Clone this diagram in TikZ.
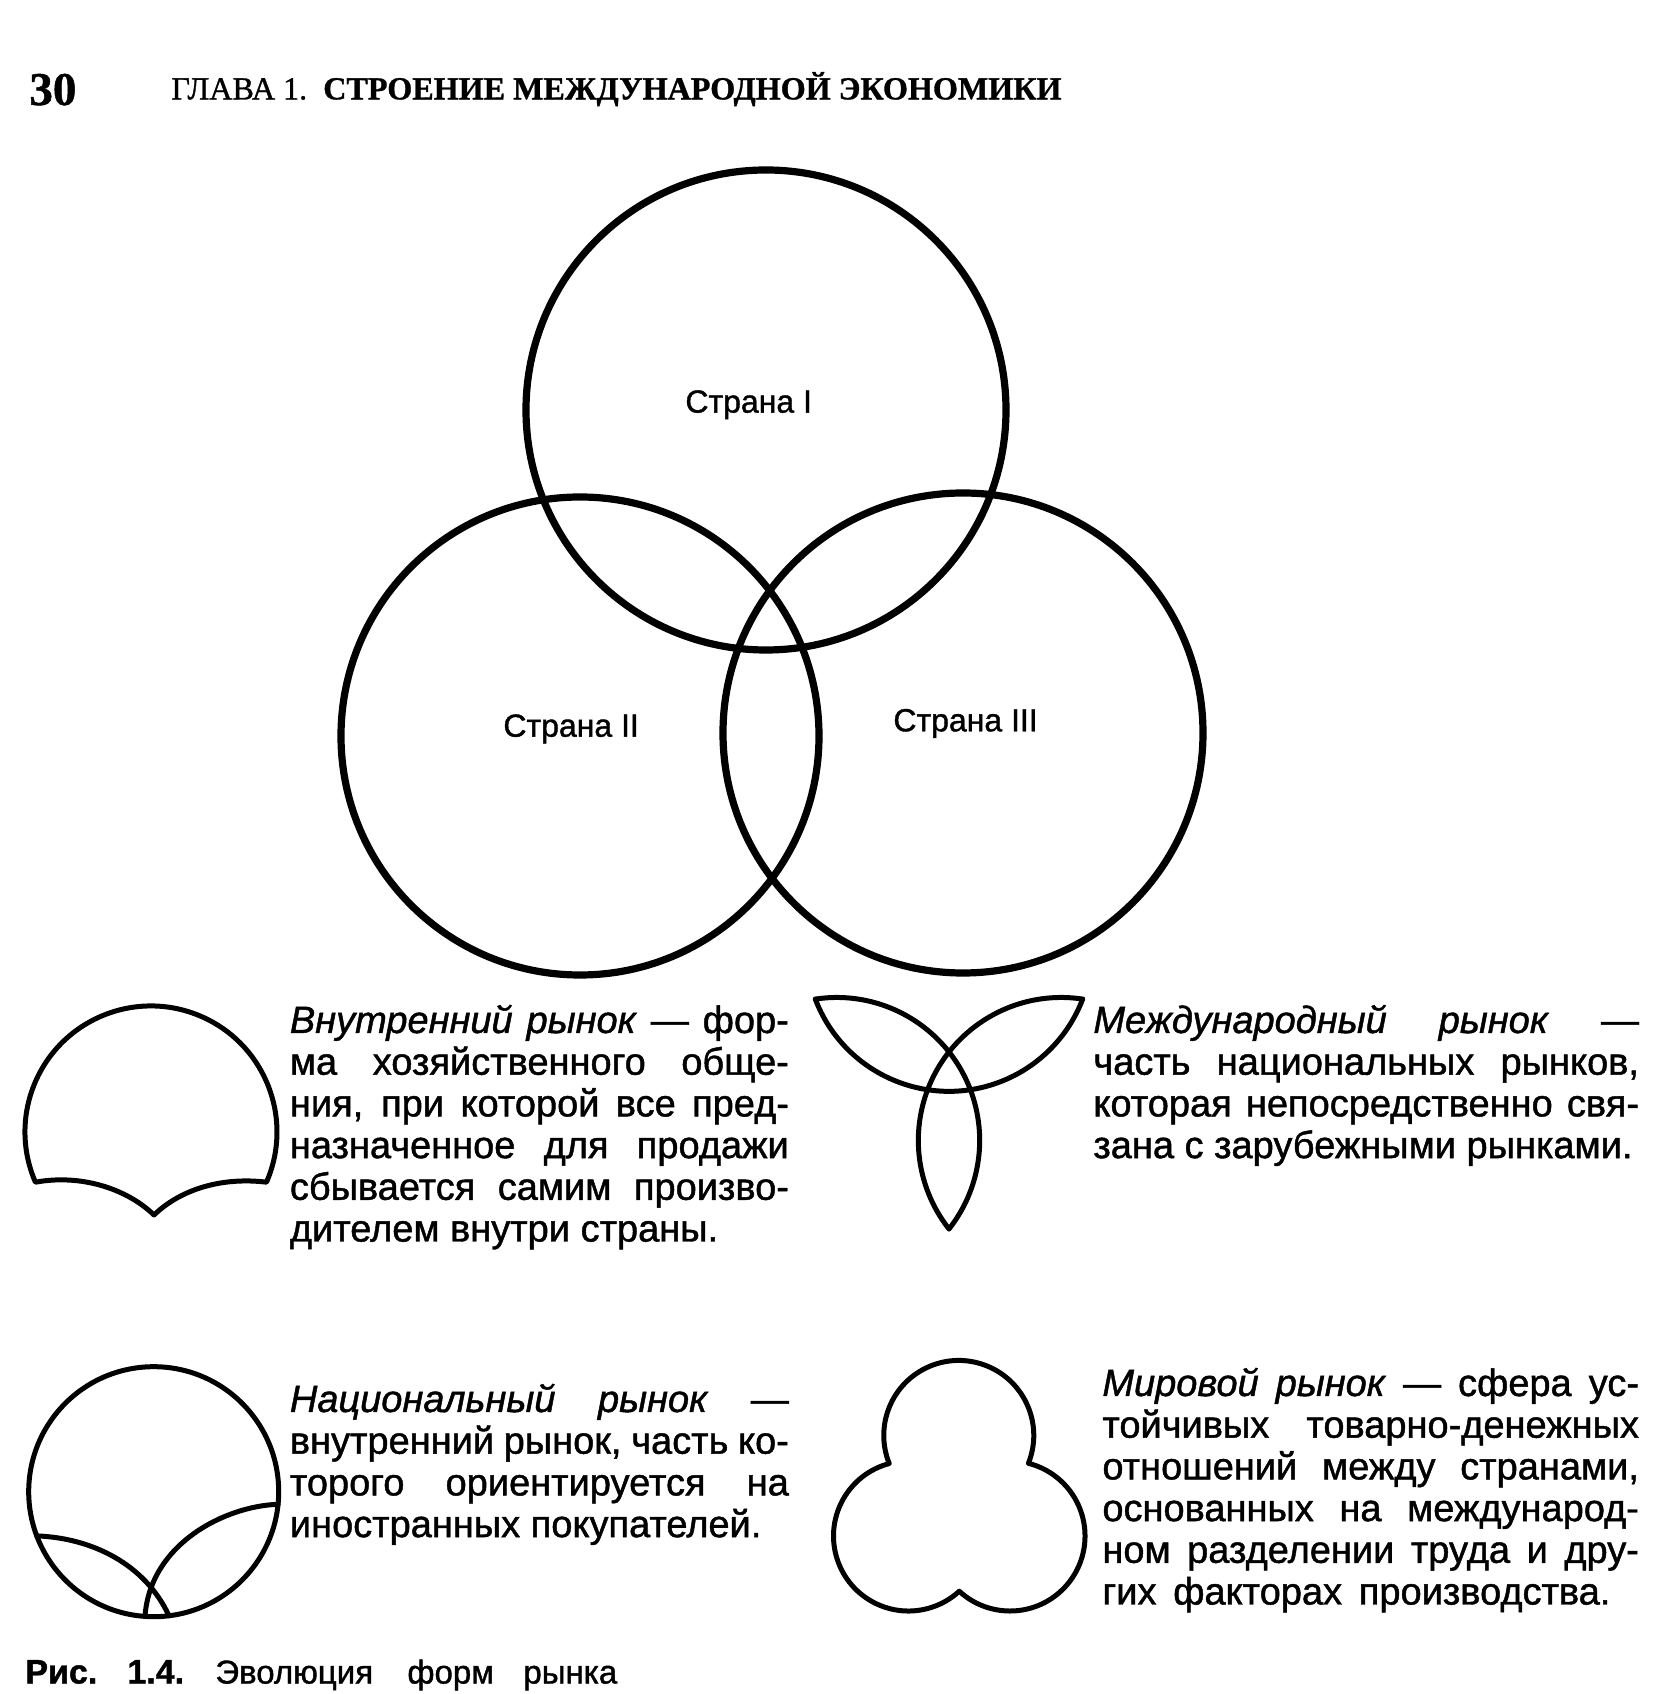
\documentclass[tikz,border=0pt]{standalone}
\usepackage{fontspec}
\setmainfont[FakeBold=1.2]{Liberation Sans}
\newfontfamily\hdrfont[FakeBold=1]{Liberation Serif}
\tikzset{
  bigline/.style={line width=3.6pt},
  outline/.style={line width=2.5pt, line join=round, line cap=round},
  cname/.style={font=\fontsize{16}{19}\selectfont, inner sep=0pt, anchor=base west},
  para/.style={font=\fontsize{19}{20.85}\selectfont, inner sep=0pt, anchor=base west},
}
\begin{document}
\begin{tikzpicture}[x=0.5pt,y=0.5pt]
\useasboundingbox (0,0) rectangle (1656,1694);
\fill[white] (0,0) rectangle (1656,1694);

% header
\node[anchor=base west, inner sep=0pt, font=\hdrfont\bfseries\fontsize{23.5}{26}\selectfont] (pg) at (29,1589) {30};
\node[anchor=base west, inner sep=0pt, font=\hdrfont\fontsize{16}{19}\selectfont] (hdr) at (171,1594.6)
  {\resizebox{445pt}{!}{ГЛАВА 1.\ \ \textbf{СТРОЕНИЕ МЕЖДУНАРОДНОЙ ЭКОНОМИКИ}}};

% big Venn circles
\draw[bigline] (766,1284) circle[radius=240];
\draw[bigline] (580,958) circle[radius=239];
\draw[bigline] (963,961) circle[radius=240];
\node[cname] (s1) at (685,1281.4) {Страна I};
\node[cname] (s2) at (503,957.3) {Страна II};
\node[cname] (s3) at (893,962.7) {Страна III};

% shape 1: internal market
\draw[outline] (266.5,511.8) arc[start angle=-23.5, end angle=203.5, radius=126]
  .. controls (80,520) and (126,506) .. (154,479)
  .. controls (182,506) and (224,517) .. (266.5,511.8) -- cycle;

% shape 2: international market (trefoil)
\draw[outline] (815.3,694.9) arc[start angle=200.8, end angle=339.2, radius=143];
\draw[outline] (815.3,694.9) arc[start angle=98.6, end angle=-38.2, radius=143];
\draw[outline] (1082.7,694.9) arc[start angle=81.4, end angle=218.2, radius=143];

% shape 3: national market
\draw[outline] (153.7,202.3) circle[radius=125];
\draw[outline] (36.8,158.1) .. controls (92,156) and (145,130) .. (169,78.2);
\draw[outline] (278.1,189.7) .. controls (225,188) and (150,150) .. (145,77.6);

% shape 4: world market
\draw[outline] (1028.4,230.7) arc[start angle=-21.8, end angle=202.0, radius=75]
  arc[start angle=104.9, end angle=312.6, radius=75]
  arc[start angle=227.4, end angle=435.8, radius=75] -- cycle;

% texts
\node[para] (t1) at (289.5,661) {\vtop{\hsize=249.5pt
  \hbox to\hsize{\textit{Внутренний рынок} — фор-}
  \hbox to\hsize{ма хозяйственного обще-}
  \hbox to\hsize{ния, при которой все пред-}
  \hbox to\hsize{назначенное для продажи}
  \hbox to\hsize{сбывается самим произво-}
  \hbox{дителем внутри страны.}}};

\node[para] (t2) at (1093,661) {\vtop{\hsize=272.8pt
  \hbox to\hsize{\textit{Международный рынок} —}
  \hbox to\hsize{часть национальных рынков,}
  \hbox to\hsize{которая непосредственно свя-}
  \hbox{зана с зарубежными рынками.}}};

\node[para] (t3) at (289.5,282) {\vtop{\hsize=249.5pt
  \hbox to\hsize{\textit{Национальный рынок} —}
  \hbox to\hsize{внутренний рынок, часть ко-}
  \hbox to\hsize{торого ориентируется на}
  \hbox{иностранных покупателей.}}};

\node[para] (t4) at (1102,298) {\vtop{\hsize=268.3pt
  \hbox to\hsize{\textit{Мировой рынок} — сфера ус-}
  \hbox to\hsize{тойчивых товарно-денежных}
  \hbox to\hsize{отношений между странами,}
  \hbox to\hsize{основанных на международ-}
  \hbox to\hsize{ном разделении труда и дру-}
  \hbox to 254pt{гих факторах производства.}}};

% caption
\node[anchor=base west, inner sep=0pt, font=\fontsize{16.5}{20}\selectfont] (cap) at (25,10.5)
  {\hbox{\hbox to 51pt{\fontsize{17}{20}\selectfont\textbf{Рис.}\hss}\hbox to 44pt{\fontsize{17}{20}\selectfont\textbf{1.4.}\hss}\hbox to 96pt{Эволюция\hss}\hbox to 58pt{форм\hss}рынка}};
\end{tikzpicture}
\end{document}
